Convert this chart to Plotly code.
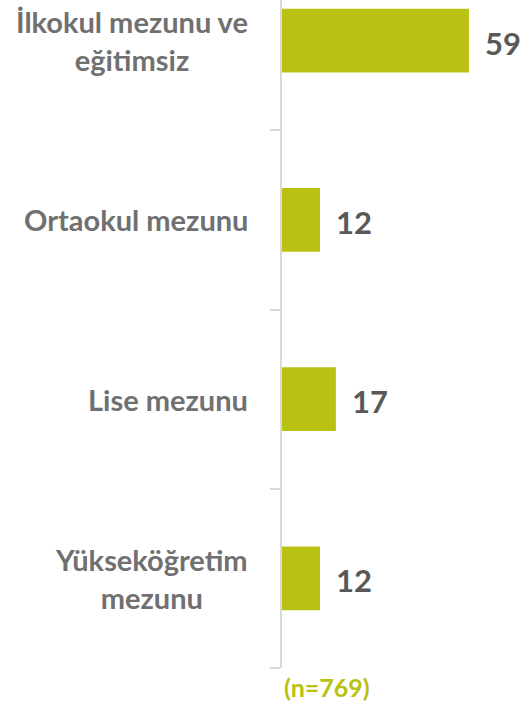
import plotly.graph_objects as go

categories = ["İlkokul mezunu ve<br>eğitimsiz", "Ortaokul mezunu", "Lise mezunu", "Yükseköğretim<br>mezunu"]
values = [59, 12, 17, 12]
note = "(n=769)"

bar_color = "#b9c112"
font_family = "Lato, 'Open Sans', sans-serif"

fig = go.Figure()
fig.add_trace(go.Bar(
    y=list(range(len(categories))),
    x=values,
    orientation="h",
    marker=dict(color=bar_color, line=dict(width=0)),
    width=0.355,
    hoverinfo="skip",
))

annotations = []
for i, (c, v) in enumerate(zip(categories, values)):
    annotations.append(dict(
        x=-32 / 243, xref="paper", y=i, yref="y",
        text=c, showarrow=False, xanchor="right", yanchor="middle", align="center",
        font=dict(family=font_family, size=29, color="#707070", weight="bold"),
    ))
    annotations.append(dict(
        x=v, xref="x", y=i, yref="y", text=str(v), showarrow=False,
        xanchor="left", yanchor="middle", xshift=14, yshift=-2,
        font=dict(family=font_family, size=31, color="#595959", weight="bold"),
    ))
annotations.append(dict(
    x=0, xref="paper", y=0, yref="paper", text=note, showarrow=False,
    xanchor="left", yanchor="top", yshift=-2, xshift=0,
    font=dict(family=font_family, size=25, color=bar_color, weight="bold"),
))

fig.update_layout(
    width=525, height=703,
    margin=dict(l=282, r=0, t=0, b=35),
    plot_bgcolor="white", paper_bgcolor="white",
    showlegend=False,
    annotations=annotations,
    xaxis=dict(range=[0, 76.7], visible=False, showgrid=False, zeroline=False),
    yaxis=dict(
        range=[3.5, -0.227], tickmode="array", tickvals=[0.5, 1.5, 2.5, 3.5],
        ticks="outside", ticklen=10, tickcolor="#d9d9d9", tickwidth=1.5,
        showticklabels=False, showline=True, linecolor="#d9d9d9", linewidth=1.5,
        showgrid=False, zeroline=False, type="linear",
    ),
)

fig.write_html(
    "out.html",
    config={"displayModeBar": False},
    post_script="document.body.style.margin='0';document.body.style.overflow='hidden';",
)
